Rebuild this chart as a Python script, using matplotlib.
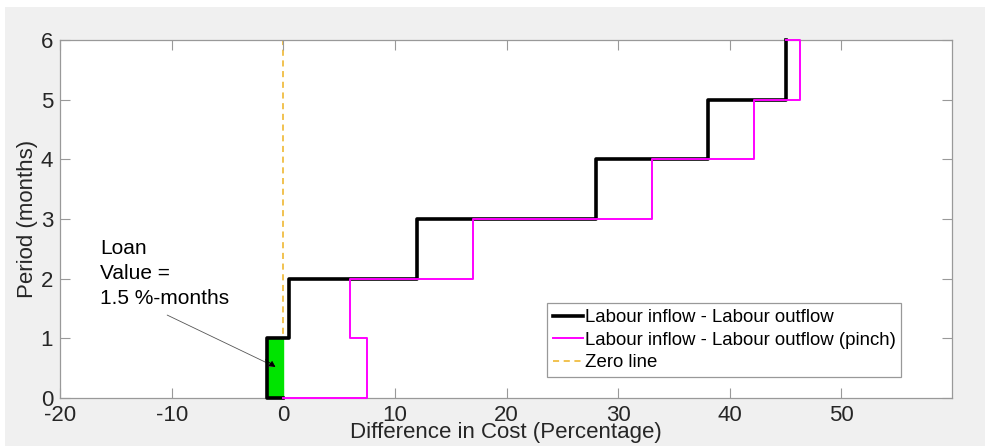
import matplotlib
matplotlib.use("Agg")
import matplotlib.pyplot as plt
from matplotlib.patches import Rectangle

# step profiles (x in %, y in months)
base_x = [0, -1.5, -1.5, 0.5, 0.5, 12, 12, 28, 28, 38, 38, 45, 45]
base_y = [0, 0, 1, 1, 2, 2, 3, 3, 4, 4, 5, 5, 6]
pinch_x = [0, 7.5, 7.5, 6, 6, 17, 17, 33, 33, 42.2, 42.2, 46.3, 46.3, 45]
pinch_y = [0, 0, 1, 1, 2, 2, 3, 3, 4, 4, 5, 5, 6, 6]
loan_x = [-1.5, 0]
loan_y = [0, 1]
zero_y = [0, 6]
xticks = [-20, -10, 0, 10, 20, 30, 40, 50]
yticks = [0, 1, 2, 3, 4, 5, 6]

plt.rcParams['font.family'] = ['Liberation Sans', 'DejaVu Sans']
plt.rcParams['axes.unicode_minus'] = False

fig = plt.figure(figsize=(9.85, 4.46), dpi=100, facecolor='white')
fig.patches.append(Rectangle((5/985, 0), 1, 1 - 7/446, transform=fig.transFigure,
                             facecolor='#f0f0f0', edgecolor='none', zorder=-10))
ax = fig.add_axes([60/985, 1 - 398/446, 892/985, 358/446])

zl, = ax.plot([0, 0], zero_y, color='#edb120', lw=1.1, ls=(0, (4, 3)), label='Zero line', zorder=1)
ax.fill_between(loan_x, loan_y[0], loan_y[1], color='#00e400', zorder=2)
bl, = ax.plot(base_x, base_y, color='black', lw=2.6, label='Labour inflow - Labour outflow',
              zorder=4, clip_on=False)
pl, = ax.plot(pinch_x, pinch_y, color='#ff00ff', lw=1.4,
              label='Labour inflow - Labour outflow (pinch)', zorder=5, clip_on=False)

ax.annotate('', xy=(-0.7, 0.52), xytext=(-10.4, 1.39),
            arrowprops=dict(arrowstyle='-|>', color='#555555', lw=0.6,
                            mutation_scale=9, shrinkA=0, shrinkB=0))
ax.annotate('', xy=(-0.7, 0.52), xytext=(-1.6, 0.64),
            arrowprops=dict(arrowstyle='-|>', color='black', lw=0.6,
                            mutation_scale=9, shrinkA=0, shrinkB=0))
ax.text(-16.4, 2.66, 'Loan\nValue =\n1.5 %-months', fontsize=15, color='black',
        va='top', ha='left', linespacing=1.38)

ax.set_xlim(-20, 59.9)
ax.set_ylim(0, 6)
ax.set_xticks(xticks)
ax.set_yticks(yticks)
ax.tick_params(direction='in', length=7, color='#999999', labelcolor='#262626',
               top=True, right=True, labelsize=16, pad=5)
for s in ax.spines.values():
    s.set_color('#999999')
    s.set_linewidth(0.9)

ax.set_xlabel('Difference in Cost (Percentage)', fontsize=16, color='#262626', labelpad=-3)
ax.set_ylabel('Period (months)', fontsize=16, color='#262626', labelpad=2)

leg = ax.legend(handles=[bl, pl, zl], loc='lower right', bbox_to_anchor=(0.943, 0.059),
                fancybox=False, framealpha=1, edgecolor='#999999', fontsize=13.4,
                handlelength=1.6, handletextpad=0.1, borderpad=0.3, labelspacing=0.3,
                borderaxespad=0)
leg.get_frame().set_linewidth(0.9)

fig.savefig('out.png', dpi=100, facecolor=fig.get_facecolor())
